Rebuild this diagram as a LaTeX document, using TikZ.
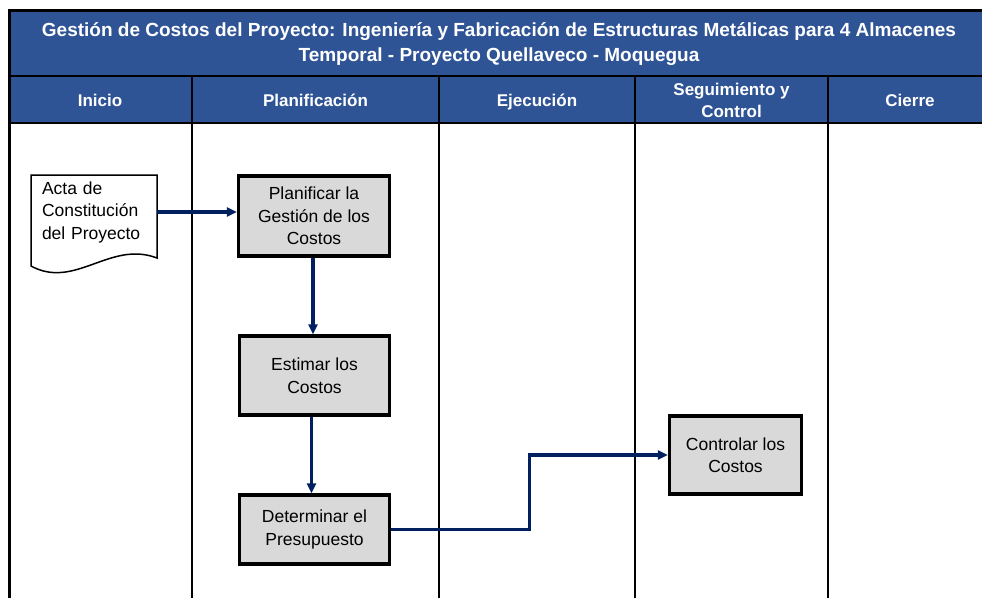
\documentclass[tikz,border=0pt]{standalone}
\usepackage{fontspec}
\setmainfont{Liberation Sans}
\usetikzlibrary{
  arrows.meta,
  calc,
  positioning
}
\definecolor{headBlue}{RGB}{47,84,150}
\definecolor{flowNavy}{RGB}{0,32,96}
\definecolor{boxGray}{RGB}{217,217,217}
\tikzset{
  process/.style={
    draw=black,
    fill=boxGray,
    line width=3.2pt,
    align=center,
    inner sep=0pt,
    font=\fontsize{17.5}{22.5}\selectfont
  },
  heading/.style={
    text=white,
    align=center,
    font=\bfseries\fontsize{17}{22}\selectfont
  },
  flow/.style={
    -{Triangle[length=10pt,width=9pt]},
    draw=flowNavy,
    line width=3.2pt
  },
  lane/.style={line width=2.2pt}
}

\begin{document}
\begin{tikzpicture}[x=1pt, y=-1pt, >=Stealth]
    \clip (0,0) rectangle (982,597);

    \fill[headBlue] (9,10) rectangle (995,123);
    \draw[lane, line width=3pt] (995,10) -- (9,10) -- (9,605);
    \draw[lane] (9,76) -- (995,76);
    \draw[lane] (9,123) -- (995,123);
    \foreach \x in {192,439,635,828}{
      \draw[lane] (\x,76) -- (\x,605);
    }

    \node[heading, font=\bfseries\fontsize{19}{25}\selectfont] (title) at (499,44)
    {Gestión de Costos del Proyecto: Ingeniería y Fabricación de Estructuras Metálicas para 4 Almacenes\\
     Temporal - Proyecto Quellaveco - Moquegua};

    \node[heading, anchor=base] (inicio)  at (100,106)   {Inicio};
    \node[heading, anchor=base] (planif)  at (315.5,106) {Planificación};
    \node[heading, anchor=base] (ejecu)   at (537,106)   {Ejecución};
    \node[heading]              (seguim)  at (731.5,100) {Seguimiento y\\Control};
    \node[heading, anchor=base] (cierre)  at (910,106)   {Cierre};

    \draw[line width=1.5pt, fill=white]
    (31,175) -- (157,175) -- (157,258)
    .. controls (110,240) and (75,290) .. (31,266)
    -- cycle;
    \node (acta) at (94,212) [text width=104pt, inner xsep=11pt, align=left,
      font=\fontsize{17.5}{22.5}\selectfont]
    {Acta de\\Constitución\\del Proyecto};

    \node[process, minimum width=151pt, minimum height=80pt] (plan)  at (314,216)
    {Planificar la\\Gestión de los\\Costos};
    \node[process, minimum width=150pt, minimum height=79pt] (estim) at (314.5,375.5)
    {Estimar los\\Costos};
    \node[process, minimum width=150pt, minimum height=69pt] (presu) at (314.5,529.5)
    {Determinar el\\Presupuesto};
    \node[process, minimum width=132pt, minimum height=78pt] (ctrl)  at (735.5,455)
    {Controlar los\\Costos};

    \draw[flow] (acta.east) -- (acta.east -| plan.west);
    \draw[flow] ($(plan.south)+(-1,0)$) -- ($(plan.south |- estim.north)+(-1,0)$);
    \draw[flow] ($(estim.south)+(-3,0)$) -- ($(estim.south |- presu.north)+(-3,0)$);
    \draw[flow] (presu.east) -- ++(138,0) |- (ctrl.west);
\end{tikzpicture}
\end{document}
